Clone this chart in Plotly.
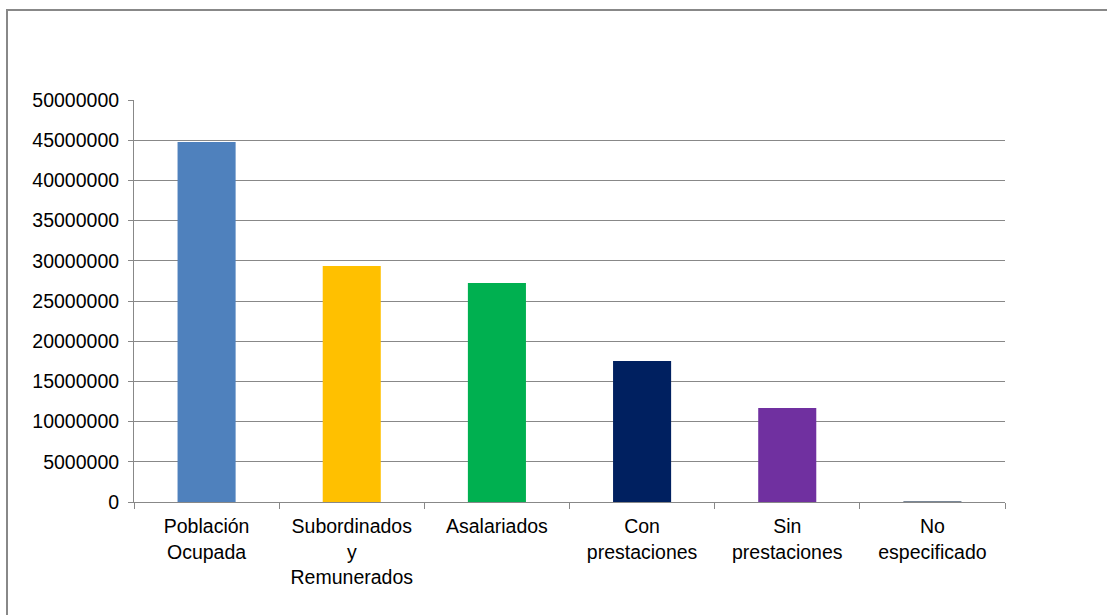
import plotly.graph_objects as go

# Employed population breakdown
categories = [
    "Población<br>Ocupada",
    "Subordinados<br>y<br>Remunerados",
    "Asalariados",
    "Con<br>prestaciones",
    "Sin<br>prestaciones",
    "No<br>especificado",
]
values = [44780000, 29350000, 27240000, 17540000, 11690000, 120000]
bar_colors = ["#4F81BD", "#FFC000", "#00B050", "#002060", "#7030A0", "#7A8796"]
y_ticks = list(range(0, 50000001, 5000000))

W, H = 1107, 615
L, R, T, B = 134, 102, 100, 113
pw, ph = W - L - R, H - T - B

fig = go.Figure(
    go.Bar(
        x=categories,
        y=values,
        marker=dict(color=bar_colors, line=dict(width=0)),
        width=0.4,
        showlegend=False,
    )
)

fig.update_layout(
    width=W,
    height=H,
    margin=dict(l=L, r=R, t=T, b=B),
    paper_bgcolor="white",
    plot_bgcolor="white",
    font=dict(family="Liberation Sans, Arial, sans-serif", size=20, color="#000000"),
    xaxis=dict(
        showline=True,
        linecolor="#888888",
        linewidth=1,
        ticks="outside",
        tickson="boundaries",
        ticklen=6,
        tickcolor="#888888",
        showgrid=False,
        tickfont=dict(size=19.5),
        ticklabelstandoff=7,
        range=[-0.5, 5.5],
    ),
    yaxis=dict(
        range=[0, 50000000],
        tickvals=y_ticks,
        ticktext=[str(v) for v in y_ticks],
        showline=True,
        linecolor="#888888",
        linewidth=1,
        ticks="outside",
        ticklen=5,
        tickcolor="#888888",
        showgrid=True,
        gridcolor="#888888",
        gridwidth=1,
        zeroline=False,
        tickfont=dict(size=19.5),
        ticklabelstandoff=5,
    ),
    bargap=0.6,
)

# Chart frame
def px_x(p):
    return (p - L) / pw

def px_y(p):
    return (H - B - p) / ph

fig.add_shape(
    type="rect",
    xref="paper",
    yref="paper",
    x0=px_x(7),
    x1=px_x(1112),
    y0=px_y(620),
    y1=px_y(10),
    line=dict(color="#888888", width=2),
    fillcolor="rgba(0,0,0,0)",
    layer="below",
)

fig.write_html("out.html")
